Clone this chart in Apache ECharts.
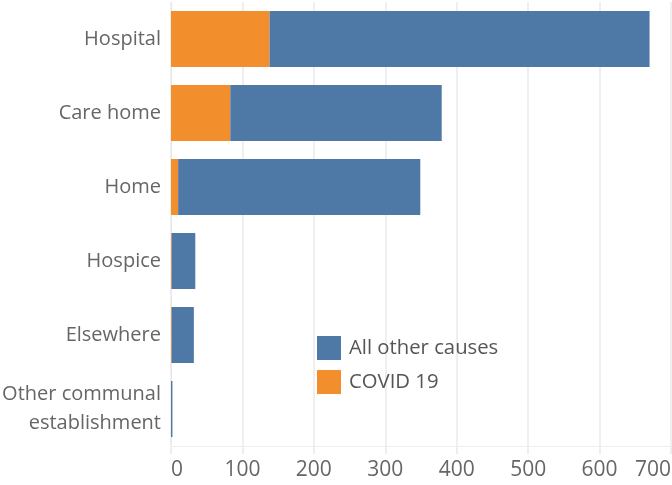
<!DOCTYPE html>
<html><head><meta charset="utf-8">
<script src="https://cdn.jsdelivr.net/npm/echarts@6/dist/echarts.min.js"></script>
<style>html,body{margin:0;padding:0;background:#fff}#c{width:672px;height:485px}</style>
</head><body><div id="c"></div>
<script>
const categories = ["Hospital", "Care home", "Home", "Hospice", "Elsewhere", "Other communal\nestablishment"];
const covid19 = [138, 83, 10, 1, 1, 0];
const allOtherCauses = [532, 296, 339, 33, 31, 2];
const xTicks = [0, 100, 200, 300, 400, 500, 600, 700];

const FONT = 'Open Sans';
const chart = echarts.init(document.getElementById('c'), null, {renderer: 'canvas'});
chart.setOption({
  animation: false,
  backgroundColor: '#fff',
  grid: {left: 171, right: 1, top: 2, bottom: 39, containLabel: false, outerBoundsMode: 'none'},
  legend: {
    orient: 'vertical', left: 317, top: 336, itemWidth: 24, itemHeight: 24, itemGap: 10,
    icon: 'rect', padding: 0,
    data: ['All other causes', 'COVID 19'],
    textStyle: {fontFamily: FONT, fontSize: 20.3, color: '#555', padding: [0, 0, 0, 3]}
  },
  xAxis: {
    type: 'value', min: xTicks[0], max: xTicks[xTicks.length - 1], interval: 100,
    axisLine: {show: true, lineStyle: {color: '#eeeeee', width: 1}},
    axisTick: {show: true, length: 8, lineStyle: {color: '#eeeeee', width: 2}},
    splitLine: {show: true, lineStyle: {color: '#efefef', width: 2}},
    axisLabel: {fontFamily: FONT, fontSize: 21, color: '#666', margin: 14, alignMinLabel: 'left', alignMaxLabel: 'right'}
  },
  yAxis: {
    type: 'category', data: categories, inverse: true,
    axisLine: {show: true, lineStyle: {color: '#e6e6e6', type: 'dashed'}},
    axisTick: {show: false},
    axisLabel: {fontFamily: FONT, fontSize: 20, color: '#666', margin: 10, align: 'right', lineHeight: 29, padding: [4, 0, 0, 0]}
  },
  series: [
    {name: 'COVID 19', type: 'bar', stack: 'a', barWidth: 56, data: covid19, itemStyle: {color: '#F28E2B'}},
    {name: 'All other causes', type: 'bar', stack: 'a', barWidth: 56, data: allOtherCauses, itemStyle: {color: '#4E79A7'}}
  ]
});
</script></body></html>
